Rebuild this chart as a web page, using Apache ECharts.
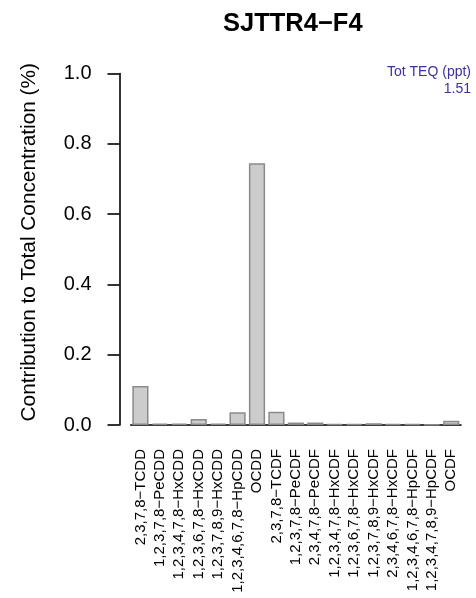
<!DOCTYPE html>
<html>
<head>
<meta charset="utf-8">
<script src="https://cdn.jsdelivr.net/npm/echarts@6/dist/echarts.min.js"></script>
<style>
  html, body { margin: 0; padding: 0; background: #ffffff; }
  #chart { width: 476px; height: 598px; }
</style>
</head>
<body>
<div id="chart"></div>
<script>
// Congener names (PCDD first, then PCDF)
const congeners = [
  '2,3,7,8\u2212TCDD',
  '1,2,3,7,8\u2212PeCDD',
  '1,2,3,4,7,8\u2212HxCDD',
  '1,2,3,6,7,8\u2212HxCDD',
  '1,2,3,7,8,9\u2212HxCDD',
  '1,2,3,4,6,7,8\u2212HpCDD',
  'OCDD',
  '2,3,7,8\u2212TCDF',
  '1,2,3,7,8\u2212PeCDF',
  '2,3,4,7,8\u2212PeCDF',
  '1,2,3,4,7,8\u2212HxCDF',
  '1,2,3,6,7,8\u2212HxCDF',
  '1,2,3,7,8,9\u2212HxCDF',
  '2,3,4,6,7,8\u2212HxCDF',
  '1,2,3,4,6,7,8\u2212HpCDF',
  '1,2,3,4,7,8,9\u2212HpCDF',
  'OCDF'
];

// Fraction of the total concentration for each congener
const contribution = [
  0.111, 0.004, 0.004, 0.017, 0.004, 0.036, 0.745,
  0.038, 0.007, 0.007, 0.003, 0.003, 0.005, 0.003,
  0.003, 0.002, 0.012
];

const yTicks = [0.0, 0.2, 0.4, 0.6, 0.8, 1.0];

const sampleName = 'SJTTR4\u2212F4';
const totTeqLabel = 'Tot TEQ (ppt)';
const totTeqValue = '1.51';

const FONT = '"Liberation Sans", Arial, Helvetica, sans-serif';

const chart = echarts.init(document.getElementById('chart'), null, { renderer: 'canvas' });

chart.setOption({
  animation: false,
  backgroundColor: '#ffffff',
  title: [
    {
      text: sampleName,
      left: 218,
      top: 6,
      textStyle: { fontFamily: FONT, fontSize: 25.5, fontWeight: 'bold', color: '#000000' }
    },
    {
      text: totTeqLabel + '\n' + totTeqValue,
      left: 466,
      top: 58,
      textAlign: 'right',
      textStyle: {
        fontFamily: FONT, fontSize: 14, fontWeight: 'normal',
        color: '#3c3296', lineHeight: 17.5, align: 'right'
      }
    }
  ],
  grid: { left: 130.7, right: 15, top: 73.5, bottom: 173 },
  xAxis: {
    type: 'category',
    data: congeners,
    boundaryGap: true,
    axisLine: { show: true, lineStyle: { color: '#000000', width: 1.6 } },
    axisTick: { show: false },
    axisLabel: {
      rotate: 90,
      interval: 0,
      margin: 24,
      fontFamily: FONT,
      fontSize: 15,
      color: '#000000'
    },
    splitLine: { show: false }
  },
  yAxis: {
    type: 'value',
    min: 0,
    max: 1,
    interval: 0.2,
    offset: 11.2,
    name: 'Contribution to Total Concentration (%)',
    nameLocation: 'middle',
    nameGap: 80,
    nameTextStyle: {
      fontFamily: FONT, fontSize: 20.8, color: '#000000',
      padding: [0, 0, 0, 14]
    },
    axisLine: { show: true, lineStyle: { color: '#000000', width: 1.6 } },
    axisTick: { show: true, length: 12, lineStyle: { color: '#000000', width: 1.6 } },
    axisLabel: {
      margin: 28,
      fontFamily: FONT,
      fontSize: 20,
      color: '#000000',
      formatter: function (v) {
        const t = yTicks.find(function (k) { return Math.abs(k - v) < 1e-9; });
        return (t === undefined ? v : t).toFixed(1);
      }
    },
    splitLine: { show: false }
  },
  series: [
    {
      type: 'bar',
      data: contribution,
      barWidth: '83.3%',
      itemStyle: {
        color: '#cccccc',
        borderColor: '#8a8a8a',
        borderWidth: 1.5
      },
      emphasis: { disabled: true }
    }
  ]
});
</script>
</body>
</html>
